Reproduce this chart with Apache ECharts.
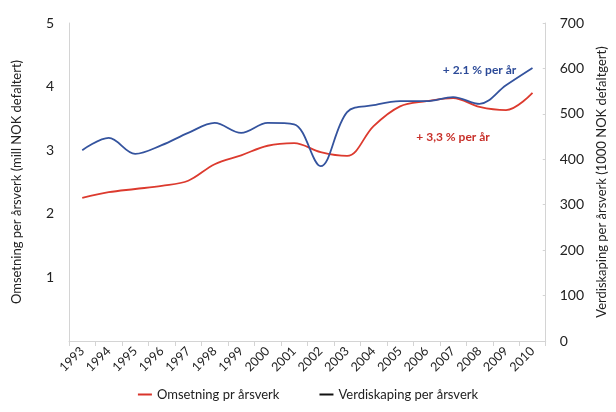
<!DOCTYPE html>
<html>
<head>
<meta charset="utf-8">
<script src="https://cdn.jsdelivr.net/npm/echarts@6/dist/echarts.min.js"></script>
<style>
  html, body { margin: 0; padding: 0; background: #fff; }
  #chart { width: 616px; height: 412px; }
</style>
</head>
<body>
<div id="chart"></div>
<script>
"use strict";
let years = ['1993','1994','1995','1996','1997','1998','1999','2000','2001','2002','2003','2004','2005','2006','2007','2008','2009','2010'];
/*Omsetning per årsverk, mill NOK (venstre akse)*/
let omsetning = [2.25, 2.34, 2.39, 2.44, 2.52, 2.78, 2.92, 3.07, 3.11, 2.97, 2.91, 3.38, 3.69, 3.77, 3.82, 3.68, 3.63, 3.90];
/*Verdiskaping per årsverk, 1000 NOK (høyre akse)*/
let verdiskaping = [420, 447, 412, 431, 458, 480, 458, 480, 477, 385, 504, 519, 528, 528, 537, 522, 563, 601];

let font = "Lato";
let axisGray = "#d4d4d4";

let chart = echarts.init(document.getElementById("chart"));
chart.setOption({
    animation: false,
    textStyle: { fontFamily: font },
    grid: { left: 69, right: 57, top: 23, bottom: 71 },
    legend: {
        bottom: 6,
        left: "center",
        itemWidth: 14,
        itemHeight: 2,
        itemGap: 40,
        icon: "rect",
        textStyle: { fontFamily: font, fontSize: 13, color: "#222" },
        data: [
            { name: "Omsetning pr årsverk", itemStyle: { color: "#d9342b" } },
            { name: "Verdiskaping per årsverk", itemStyle: { color: "#111" } }
        ]
    },
    xAxis: {
        type: "category",
        data: years,
        axisLine: { lineStyle: { color: axisGray } },
        axisTick: { show: true, lineStyle: { color: axisGray } },
        axisLabel: { interval: 0, rotate: 45, fontSize: 12.5, color: "#222", margin: 8 }
    },
    yAxis: [
        {
            type: "value",
            min: 0, max: 5, interval: 1,
            name: "Omsetning per årsverk (mill NOK defaltert)",
            nameLocation: "middle",
            nameGap: 46,
            nameTextStyle: { fontSize: 13, color: "#222" },
            splitLine: { show: false },
            axisLine: { show: true, lineStyle: { color: axisGray } },
            axisTick: { show: false },
            axisLabel: {
                fontSize: 14, color: "#222", margin: 15,
                formatter(v) { return v === 0 ? "" : v; }
            }
        },
        {
            type: "value",
            min: 0, max: 700, interval: 100,
            name: "Verdiskaping per årsverk (1000 NOK defaltgert)",
            nameLocation: "middle",
            nameGap: 42,
            nameTextStyle: { fontSize: 13, color: "#222" },
            splitLine: { show: false },
            axisLine: { show: true, lineStyle: { color: axisGray } },
            axisTick: { show: true, inside: true, length: 3, lineStyle: { color: axisGray } },
            axisLabel: { fontSize: 14, color: "#222", margin: 14 }
        }
    ],
    series: [
        {
            type: "line",
            name: "Omsetning pr årsverk",
            data: omsetning,
            yAxisIndex: 0,
            smooth: 0.35,
            symbol: "none",
            lineStyle: { color: "#dc3a2e", width: 1.8 },
            itemStyle: { color: "#dc3a2e" },
            markPoint: {
                symbol: "rect", symbolSize: 0,
                label: {
                    show: true, formatter: "+ 3,3 % per år", color: "#c8302a",
                    fontSize: 12, fontWeight: "bold", fontFamily: font
                },
                data: [{ coord: ["2007", 3.21] }]
            }
        },
        {
            type: "line",
            name: "Verdiskaping per årsverk",
            data: verdiskaping,
            yAxisIndex: 1,
            smooth: 0.35,
            symbol: "none",
            lineStyle: { color: "#34539e", width: 1.8 },
            itemStyle: { color: "#34539e" },
            markPoint: {
                symbol: "rect", symbolSize: 0,
                label: {
                    show: true, formatter: "+ 2.1 % per år", color: "#2c4a98",
                    fontSize: 12, fontWeight: "bold", fontFamily: font
                },
                data: [{ coord: ["2008", 596] }]
            }
        }
    ]
});
</script>
</body>
</html>
